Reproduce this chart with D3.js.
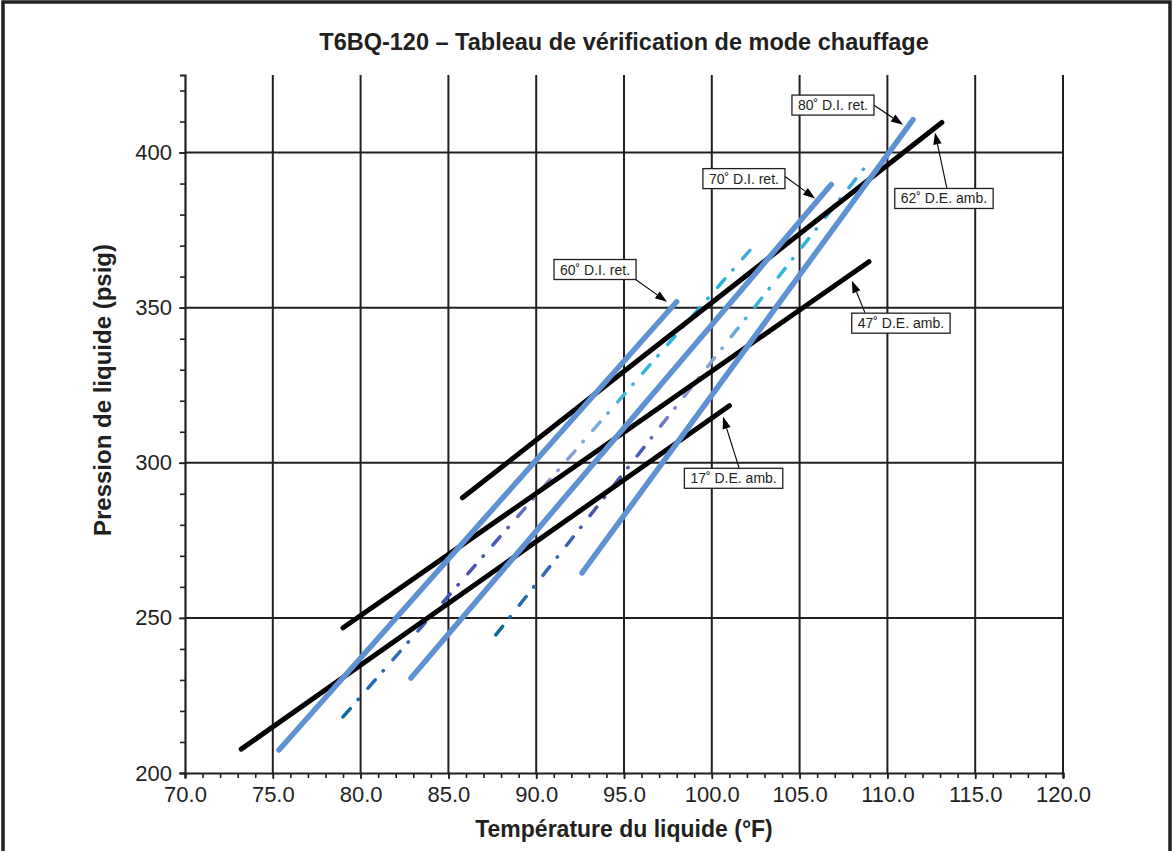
<!DOCTYPE html>
<html>
<head>
<meta charset="utf-8">
<script src="https://cdn.jsdelivr.net/npm/d3@7"></script>
<style>
  html, body { margin: 0; padding: 0; background: #fff; }
  svg { display: block; }
  text { font-family: "Liberation Sans", Arial, Helvetica, sans-serif; fill: #231f20; }
</style>
</head>
<body>
<svg id="chart" width="1173" height="851"></svg>
<script>
// ---------- data ----------
const titleText = "T6BQ-120 – Tableau de vérification de mode chauffage";
const xTitle = "Température du liquide (°F)";
const yTitle = "Pression de liquide (psig)";

const xMajorTicks = [70, 75, 80, 85, 90, 95, 100, 105, 110, 115, 120];
const xTickLabels = ["70.0", "75.0", "80.0", "85.0", "90.0", "95.0", "100.0", "105.0", "110.0", "115.0", "120.0"];
const yMajorTicks = [200, 250, 300, 350, 400];
const yTickLabels = ["200", "250", "300", "350", "400"];

// outdoor ambient lines (black)
const ambientNames = ["62˚ D.E. amb.", "47˚ D.E. amb.", "17˚ D.E. amb."];
const ambientX0 = [85.8, 79.0, 73.2];
const ambientY0 = [288.7, 246.8, 207.7];
const ambientX1 = [113.1, 108.95, 101.0];
const ambientY1 = [409.7, 364.8, 318.4];

// indoor return lines (blue)
const indoorNames = ["60˚ D.I. ret.", "70˚ D.I. ret.", "80˚ D.I. ret."];
const indoorX0 = [75.35, 82.87, 92.61];
const indoorY0 = [207.4, 230.6, 264.5];
const indoorX1 = [98.0, 106.8, 111.46];
const indoorY1 = [351.9, 389.7, 410.6];

// intermediate dash-dot lines
const dashX0 = [79.0, 87.7];
const dashY0 = [218.1, 244.5];
const dashX1 = [102.4, 108.8];
const dashY1 = [370.0, 395.8];

// annotations: label, box centre, arrow start, arrow tip (data units)
const noteLabels = ["80˚ D.I. ret.", "70˚ D.I. ret.", "60˚ D.I. ret.", "62˚ D.E. amb.", "47˚ D.E. amb.", "17˚ D.E. amb."];
const noteBoxX = [106.9, 101.83, 93.35, 113.22, 110.77, 101.24];
const noteBoxY = [415.3, 391.6, 362.3, 385.2, 345.0, 295.0];
const noteFromX = [109.18, 104.17, 95.68, 113.39, 108.72, 101.55];
const noteFromY = [415.5, 392.3, 359.0, 388.4, 348.4, 298.4];
const noteToX = [110.89, 105.88, 97.45, 112.71, 107.98, 100.64];
const noteToY = [409.0, 385.2, 351.9, 406.5, 358.7, 314.8];

// ---------- drawing ----------
const svg = d3.select("#chart");
const W = 1173, H = 851;
const plot = {left: 185, right: 1063, top: 75, bottom: 773};
const ink = "#231f20";

const x = d3.scaleLinear().domain([70, 120]).range([plot.left, plot.right]);
const y = d3.scaleLinear().domain([200, 425]).range([plot.bottom, plot.top]);

// outer frame
svg.append("rect").attr("x", 3).attr("y", 2).attr("width", W - 6).attr("height", H + 20)
  .attr("fill", "none").attr("stroke", ink).attr("stroke-width", 3.5);

// title
svg.append("text").attr("x", 624).attr("y", 50).attr("text-anchor", "middle")
  .attr("font-size", 23.5).attr("font-weight", "bold").text(titleText);

// grid
const grid = svg.append("g");
grid.selectAll(".vg").data(xMajorTicks.slice(1)).join("line")
  .attr("x1", d => x(d)).attr("x2", d => x(d))
  .attr("y1", plot.top).attr("y2", plot.bottom)
  .attr("stroke", ink).attr("stroke-width", 2);
grid.selectAll(".hg").data(yMajorTicks.slice(1)).join("line")
  .attr("x1", plot.left).attr("x2", plot.right)
  .attr("y1", d => y(d)).attr("y2", d => y(d))
  .attr("stroke", ink).attr("stroke-width", 2);

// axes
const xAxisMinor = d3.axisBottom(x).tickValues(d3.range(70, 121, 1)).tickSize(5).tickFormat("");
const gxm = svg.append("g").attr("transform", `translate(0,${plot.bottom})`).call(xAxisMinor);
gxm.select(".domain").attr("stroke", ink).attr("stroke-width", 2.2);
gxm.selectAll(".tick line").attr("stroke", ink).attr("stroke-width", 1.6);

const xAxis = d3.axisBottom(x).tickValues(xMajorTicks).tickSize(6).tickPadding(7)
  .tickFormat((d, i) => xTickLabels[i]);
const gx = svg.append("g").attr("transform", `translate(0,${plot.bottom})`).call(xAxis);
gx.select(".domain").remove();
gx.selectAll(".tick line").attr("stroke", ink).attr("stroke-width", 1.6);
gx.selectAll(".tick text").attr("font-size", 22).attr("fill", ink)
  .attr("font-family", "'Liberation Sans', Arial, sans-serif");

const yAxisMinor = d3.axisLeft(y).tickValues(d3.range(200, 421, 10)).tickSize(5).tickFormat("");
const gym = svg.append("g").attr("transform", `translate(${plot.left},0)`).call(yAxisMinor);
gym.select(".domain").attr("stroke", ink).attr("stroke-width", 2.2);
gym.selectAll(".tick line").attr("stroke", ink).attr("stroke-width", 1.6);

const yAxis = d3.axisLeft(y).tickValues(yMajorTicks).tickSize(6).tickPadding(7)
  .tickFormat((d, i) => yTickLabels[i]);
const gy = svg.append("g").attr("transform", `translate(${plot.left},0)`).call(yAxis);
gy.select(".domain").remove();
gy.selectAll(".tick line").attr("stroke", ink).attr("stroke-width", 1.6);
gy.selectAll(".tick text").attr("font-size", 22).attr("fill", ink)
  .attr("font-family", "'Liberation Sans', Arial, sans-serif");

// axis titles
svg.append("text").attr("x", 624).attr("y", 837).attr("text-anchor", "middle")
  .attr("font-size", 23).attr("font-weight", "bold").text(xTitle);
svg.append("text").attr("transform", "translate(111,390) rotate(-90)").attr("text-anchor", "middle")
  .attr("font-size", 24).attr("font-weight", "bold").text(yTitle);

// gradient for dash-dot lines
const defs = svg.append("defs");
const gradStops = [
  [0.00, "#0b6a9c"], [0.12, "#2f6cb8"], [0.28, "#4a50b0"], [0.40, "#4a5cb6"],
  [0.50, "#8a92d0"], [0.60, "#88a8d8"], [0.70, "#35b5dc"], [0.90, "#28b2d8"], [1.00, "#48a8e0"]
];
dashX0.forEach((d, i) => {
  const g = defs.append("linearGradient").attr("id", "dg" + i)
    .attr("gradientUnits", "userSpaceOnUse")
    .attr("x1", x(dashX0[i])).attr("y1", y(dashY0[i]))
    .attr("x2", x(dashX1[i])).attr("y2", y(dashY1[i]));
  gradStops.forEach(s => g.append("stop").attr("offset", s[0]).attr("stop-color", s[1]));
});

const lines = svg.append("g");
// dash-dot lines
lines.selectAll(".dd").data(dashX0.map((d, i) => i)).join("line")
  .attr("x1", i => x(dashX0[i])).attr("y1", i => y(dashY0[i]))
  .attr("x2", i => x(dashX1[i])).attr("y2", i => y(dashY1[i]))
  .attr("stroke", i => `url(#dg${i})`).attr("stroke-width", 3.5)
  .attr("stroke-linecap", "round").attr("stroke-dasharray", "11,12,0.5,14.5");

// black ambient lines
lines.selectAll(".amb").data(ambientX0.map((d, i) => i)).join("line")
  .attr("x1", i => x(ambientX0[i])).attr("y1", i => y(ambientY0[i]))
  .attr("x2", i => x(ambientX1[i])).attr("y2", i => y(ambientY1[i]))
  .attr("stroke", "#000").attr("stroke-width", 5).attr("stroke-linecap", "round");

// blue indoor lines
lines.selectAll(".ind").data(indoorX0.map((d, i) => i)).join("line")
  .attr("x1", i => x(indoorX0[i])).attr("y1", i => y(indoorY0[i]))
  .attr("x2", i => x(indoorX1[i])).attr("y2", i => y(indoorY1[i]))
  .attr("stroke", "#5e92d2").attr("stroke-width", 5.5).attr("stroke-linecap", "round");

// annotations
const notes = svg.append("g");
noteLabels.forEach((lab, i) => {
  const fx = x(noteFromX[i]), fy = y(noteFromY[i]);
  const tx = x(noteToX[i]), ty = y(noteToY[i]);
  const ang = Math.atan2(ty - fy, tx - fx);
  const L = 12, hw = 4.2;
  const bx = tx - L * Math.cos(ang), by = ty - L * Math.sin(ang);
  notes.append("line").attr("x1", fx).attr("y1", fy).attr("x2", bx).attr("y2", by)
    .attr("stroke", "#000").attr("stroke-width", 1.1);
  notes.append("path")
    .attr("d", `M${tx},${ty} L${bx - hw * Math.sin(ang)},${by + hw * Math.cos(ang)} L${bx + hw * Math.sin(ang)},${by - hw * Math.cos(ang)} Z`)
    .attr("fill", "#000");
  const g = notes.append("g");
  const t = g.append("text").attr("x", x(noteBoxX[i])).attr("y", y(noteBoxY[i]))
    .attr("text-anchor", "middle").attr("dominant-baseline", "central")
    .attr("font-size", 14).text(lab);
  const bb = t.node().getBBox();
  g.insert("rect", "text")
    .attr("x", bb.x - 6).attr("y", y(noteBoxY[i]) - 10)
    .attr("width", bb.width + 12).attr("height", 20)
    .attr("fill", "#fff").attr("stroke", ink).attr("stroke-width", 1.3);
});
</script>
</body>
</html>
